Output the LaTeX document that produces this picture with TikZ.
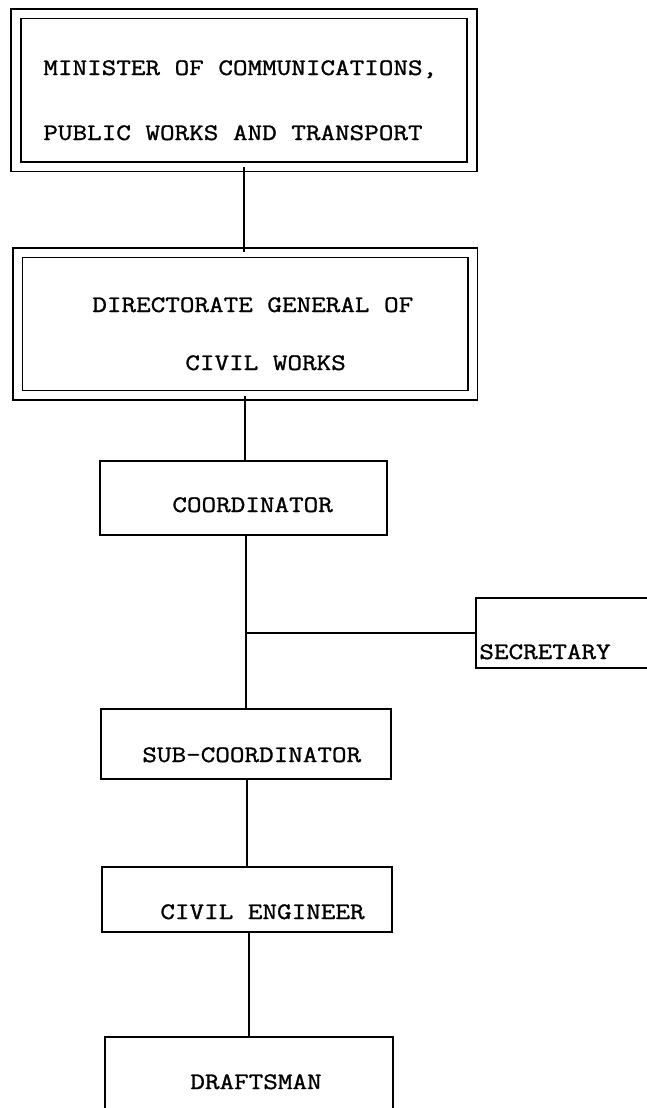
\documentclass[tikz,border=0pt]{standalone}
\usepackage{fontspec}
\newfontfamily\typewr[FakeStretch=1.2,FakeBold=1.2]{Latin Modern Mono}
\begin{document}
\begin{tikzpicture}[x=0.5pt,y=-0.5pt,
    orgbox/.style={draw,line width=0.8pt,inner sep=0pt},
    dblbox/.style={orgbox,double,double distance=4pt},
    lbl/.style={font=\typewr\fontsize{11.8pt}{14pt}\selectfont,inner sep=0pt,anchor=base west},
    link/.style={line width=0.8pt}]
    \useasboundingbox (0,0) rectangle (647,1108);
    % top of the chart, double frames
    \node[dblbox,minimum width=228pt,minimum height=76.5pt] (minister) at (244,90) {};
    \node[lbl] (ministerA) at (43,75) {MINISTER OF COMMUNICATIONS,};
    \node[lbl] (ministerB) at (43,140) {PUBLIC WORKS AND TRANSPORT};
    \node[dblbox,minimum width=227.5pt,minimum height=71.25pt] (dgcw) at (245,324) {};
    \node[lbl] (dgcwA) at (92,312) {DIRECTORATE GENERAL OF};
    \node[lbl] (dgcwB) at (185,370) {CIVIL WORKS};
    % single frames
    \node[orgbox,minimum width=143.5pt,minimum height=37pt] (coord) at (243.5,498) {};
    \node[lbl] (coordA) at (172,512) {COORDINATOR};
    \node[orgbox,minimum width=112pt,minimum height=35pt] (secr) at (588,633) {};
    \node[lbl] (secrA) at (479,659) {SECRETARY};
    \node[orgbox,minimum width=145pt,minimum height=35pt] (subco) at (246,744) {};
    \node[lbl] (subcoA) at (142,762) {SUB-COORDINATOR};
    \node[orgbox,minimum width=145pt,minimum height=32.5pt] (civeng) at (247,899.5) {};
    \node[lbl] (civengA) at (160,919) {CIVIL ENGINEER};
    \node[orgbox,minimum width=144pt,minimum height=46.5pt] (drafts) at (249,1083.5) {};
    \node[lbl] (draftsA) at (190,1089) {DRAFTSMAN};
    % connectors
    \draw[link] (minister.south) -- (minister.south |- dgcw.north);
    \draw[link] (dgcw.south) -- (dgcw.south |- coord.north);
    \draw[link] (subco.north |- coord.south) -- (subco.north);
    \coordinate (tee) at (subco.north |- secr.west);
    \draw[link] (tee) -- (secr.west);
    \draw[link] (civeng.north |- subco.south) -- (civeng.north);
    \draw[link] (drafts.north |- civeng.south) -- (drafts.north);
\end{tikzpicture}
\end{document}
